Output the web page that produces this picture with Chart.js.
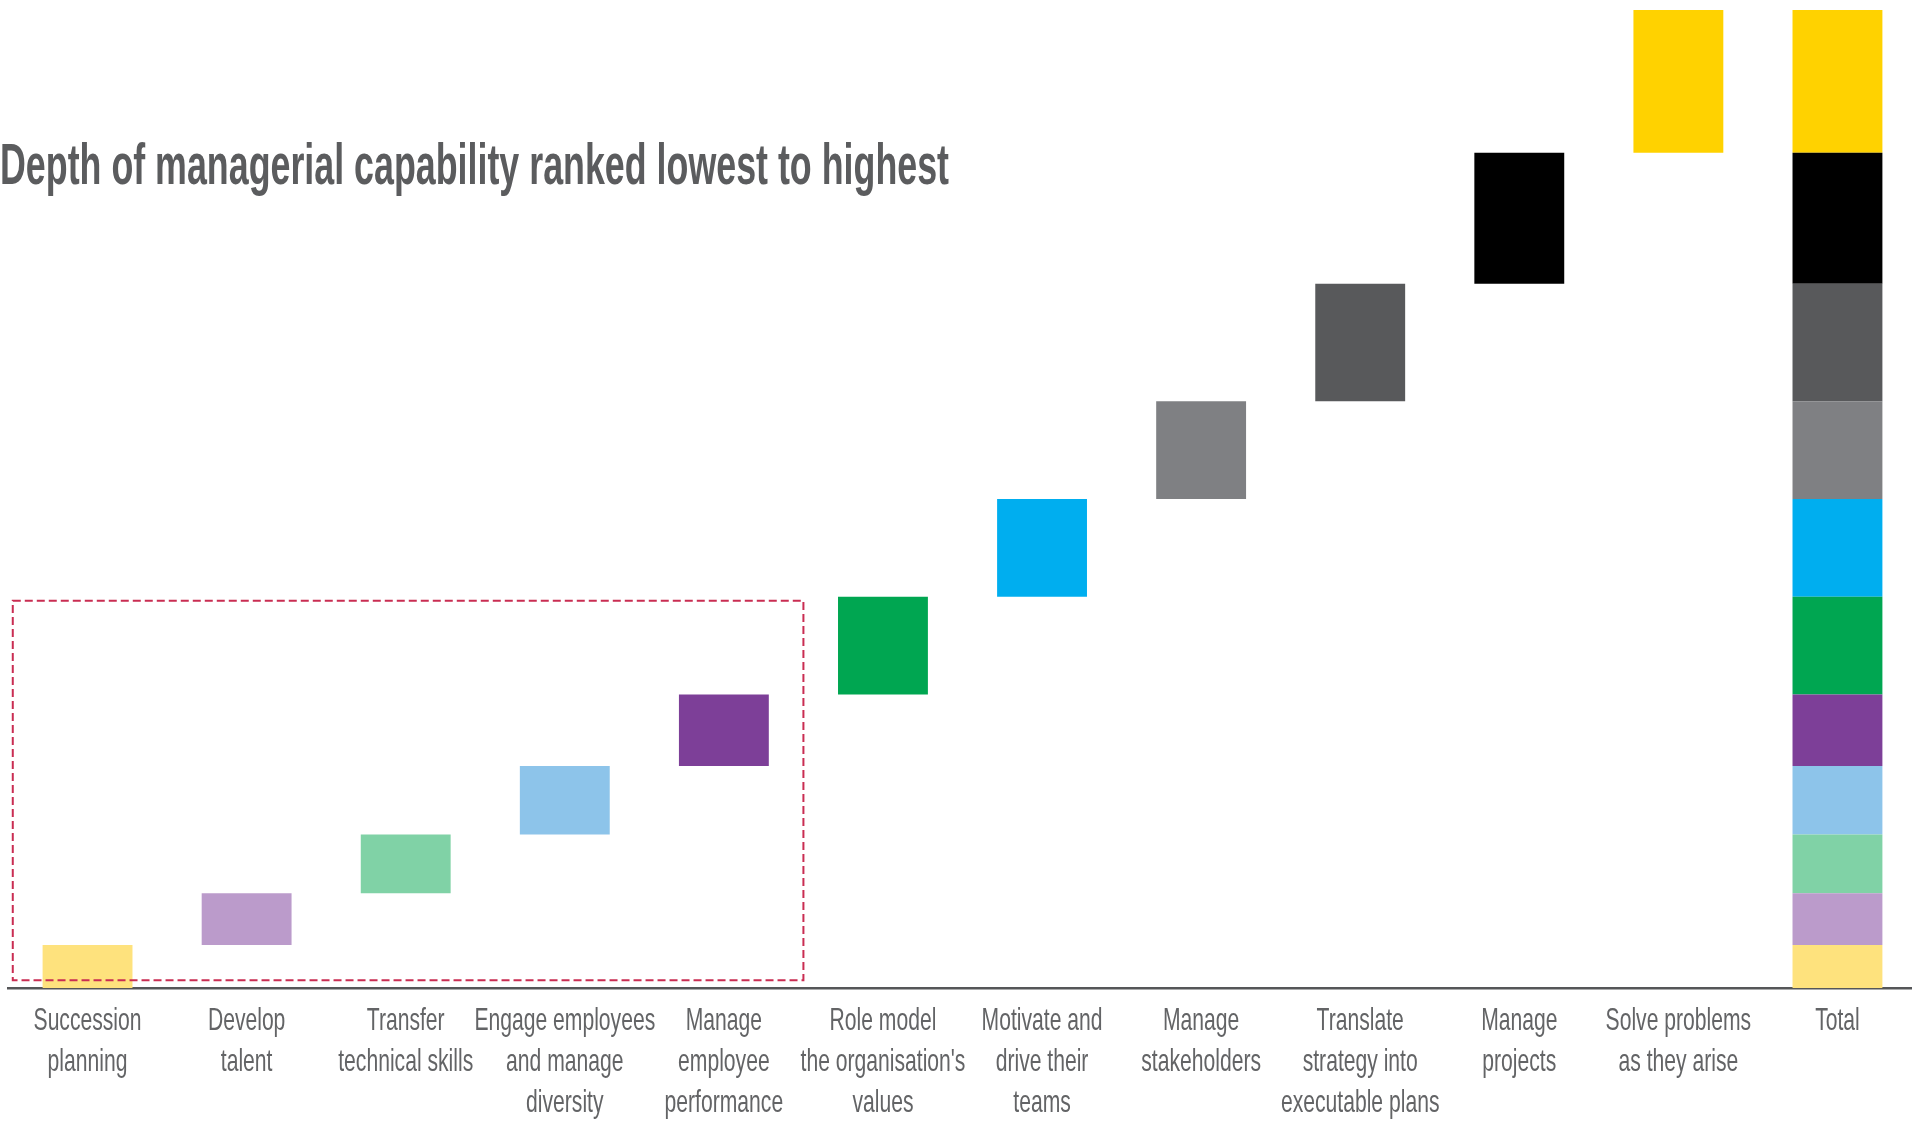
<!DOCTYPE html>
<html>
<head>
<meta charset="utf-8">
<title>Depth of managerial capability</title>
<script src="https://cdn.jsdelivr.net/npm/chart.js@4.4.1/dist/chart.umd.min.js"></script>
<style>
    html, body { margin: 0; padding: 0; background: #ffffff; overflow: hidden; }
    #wrap { width: 1912px; height: 1127px; overflow: hidden; }
</style>
</head>
<body>
<div id="wrap"><canvas id="chart" width="1917" height="1127"></canvas></div>
<script>
// ───────── capability waterfall ─────────

const titleText = 'Depth of managerial capability ranked lowest to highest';

// 카테고리 (x축 라벨, 줄 단위)
const categories = [
    ['Succession', 'planning'],
    ['Develop', 'talent'],
    ['Transfer', 'technical skills'],
    ['Engage employees', 'and manage', 'diversity'],
    ['Manage', 'employee', 'performance'],
    ['Role model', 'the organisation\'s', 'values'],
    ['Motivate and', 'drive their', 'teams'],
    ['Manage', 'stakeholders'],
    ['Translate', 'strategy into', 'executable plans'],
    ['Manage', 'projects'],
    ['Solve problems', 'as they arise'],
    ['Total']
];

// 각 역량의 비중 (%), 낮은 순
const shares = [4.4, 5.3, 6.0, 7.0, 7.3, 10.0, 10.0, 10.0, 12.0, 13.4, 14.6];

const colors = [
    '#fee27d', '#bb9bcb', '#80d2a6', '#8dc4ea', '#7d3f98', '#00a651',
    '#00aeef', '#7f8083', '#58595b', '#000000', '#ffd200'
];

// 점선 박스 (하위 5개 항목 강조)
const focusBox = { xFrom: -0.47, xTo: 4.5, yFrom: 0.8, yTo: 39.6 };

// 폭포형: 각 단계는 누적값 위에 떠 있고, Total 칸에는 같은 구간이 쌓임
const totalIndex = categories.length - 1;
let running = 0;
const datasets = shares.map((v, i) => {
    const range = [running, running + v];
    running += v;
    const data = categories.map((_, j) => (j === i || j === totalIndex) ? range : null);
    return {
        data,
        backgroundColor: colors[i],
        borderWidth: 0,
        grouped: false,
        barPercentage: 0.565,
        categoryPercentage: 1
    };
});

// 제목
const titlePlugin = {
    id: 'titleText',
    afterDraw(chart) {
        const ctx = chart.ctx;
        ctx.save();
        ctx.font = 'bold 57px "Liberation Sans", sans-serif';
        ctx.fillStyle = '#5b5c5e';
        ctx.textAlign = 'left';
        ctx.textBaseline = 'alphabetic';
        ctx.fillText(titleText, 0, 184, 949);
        ctx.restore();
    }
};

// 좁게 눌린 x축 라벨
const labelPlugin = {
    id: 'narrowLabels',
    afterDraw(chart) {
        const ctx = chart.ctx;
        const x = chart.scales.x;
        const top = chart.chartArea.bottom + 33;
        ctx.save();
        ctx.font = '32px "Liberation Sans", sans-serif';
        ctx.fillStyle = '#636466';
        ctx.textAlign = 'center';
        ctx.textBaseline = 'middle';
        categories.forEach((lines, i) => {
            const cx = x.getPixelForValue(i);
            lines.forEach((line, j) => {
                ctx.save();
                ctx.translate(cx, top + j * 41);
                ctx.scale(0.66, 1);
                ctx.fillText(line, 0, 0);
                ctx.restore();
            });
        });
        ctx.restore();
    }
};

// 점선 강조 박스
const boxPlugin = {
    id: 'focusBox',
    afterDatasetsDraw(chart) {
        const { ctx, scales } = chart;
        const l = scales.x.getPixelForValue(focusBox.xFrom);
        const r = scales.x.getPixelForValue(focusBox.xTo);
        const t = scales.y.getPixelForValue(focusBox.yTo);
        const b = scales.y.getPixelForValue(focusBox.yFrom);
        ctx.save();
        ctx.strokeStyle = '#c92d52';
        ctx.lineWidth = 2;
        ctx.setLineDash([8, 4]);
        ctx.strokeRect(l, t, r - l, b - t);
        ctx.restore();
    }
};

new Chart(document.getElementById('chart').getContext('2d'), {
    type: 'bar',
    data: {
        labels: categories.map(c => c.join(' ')),
        datasets
    },
    options: {
        responsive: false,
        animation: false,
        layout: { padding: { top: 10, left: 8, right: 0, bottom: 139 } },
        plugins: {
            legend: { display: false },
            tooltip: { enabled: false }
        },
        scales: {
            x: {
                grid: { display: false, drawTicks: false },
                border: { display: true, color: '#555658', width: 2.5 },
                ticks: { display: false }
            },
            y: {
                display: false,
                min: 0,
                max: 100
            }
        }
    },
    plugins: [titlePlugin, labelPlugin, boxPlugin]
});
</script>
</body>
</html>
